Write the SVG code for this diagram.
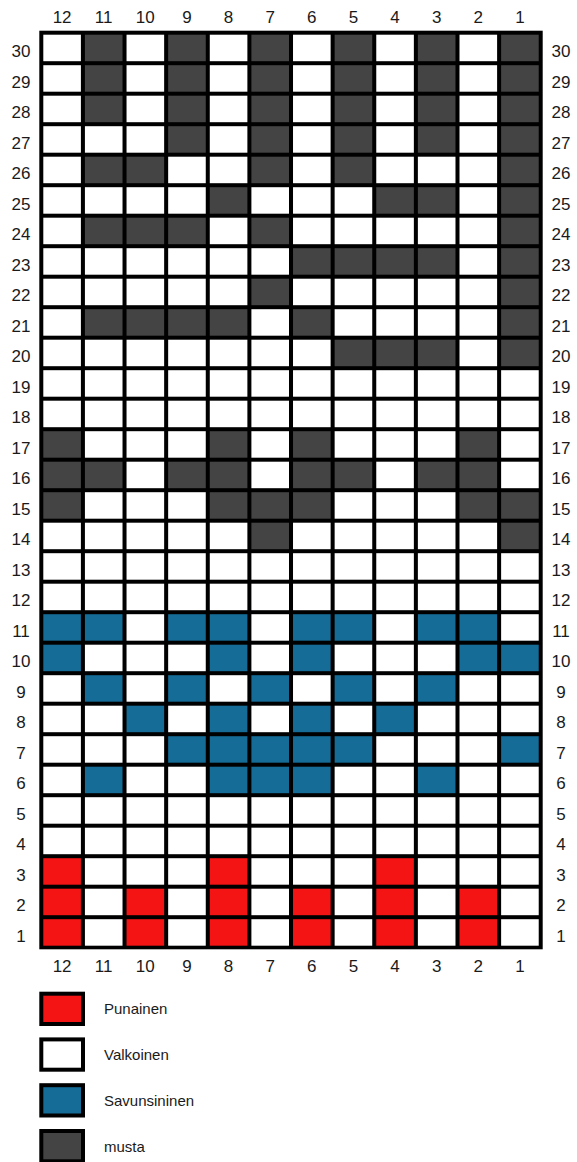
<svg xmlns="http://www.w3.org/2000/svg" width="577" height="1162" viewBox="0 0 577 1162">
<style>
.w{fill:#ffffff}.d{fill:#444444}.b{fill:#156c96}.r{fill:#f41414}
.lab{font-family:"Liberation Sans",Arial,sans-serif;font-size:17px;fill:#1a1a1a;text-anchor:middle}
.leg{font-family:"Liberation Sans",Arial,sans-serif;font-size:15px;fill:#1a1a1a}
.sw{stroke:#000;stroke-width:4}
</style>
<defs>
<rect id="c" width="37.6" height="26.5"/>
</defs>
<rect width="577" height="1162" fill="#fff"/>
<g id="grid">
<rect x="39.3" y="30.7" width="503.4" height="918.6" fill="#000"/>
<g id="row30" transform="translate(0,34.7)"><use href="#c" x="43.3" class="w"/><use href="#c" x="84.92" class="d"/><use href="#c" x="126.54" class="w"/><use href="#c" x="168.16" class="d"/><use href="#c" x="209.78" class="w"/><use href="#c" x="251.4" class="d"/><use href="#c" x="293.02" class="w"/><use href="#c" x="334.64" class="d"/><use href="#c" x="376.26" class="w"/><use href="#c" x="417.88" class="d"/><use href="#c" x="459.5" class="w"/><use href="#c" x="501.12" class="d"/></g>
<g id="row29" transform="translate(0,65.2)"><use href="#c" x="43.3" class="w"/><use href="#c" x="84.92" class="d"/><use href="#c" x="126.54" class="w"/><use href="#c" x="168.16" class="d"/><use href="#c" x="209.78" class="w"/><use href="#c" x="251.4" class="d"/><use href="#c" x="293.02" class="w"/><use href="#c" x="334.64" class="d"/><use href="#c" x="376.26" class="w"/><use href="#c" x="417.88" class="d"/><use href="#c" x="459.5" class="w"/><use href="#c" x="501.12" class="d"/></g>
<g id="row28" transform="translate(0,95.7)"><use href="#c" x="43.3" class="w"/><use href="#c" x="84.92" class="d"/><use href="#c" x="126.54" class="w"/><use href="#c" x="168.16" class="d"/><use href="#c" x="209.78" class="w"/><use href="#c" x="251.4" class="d"/><use href="#c" x="293.02" class="w"/><use href="#c" x="334.64" class="d"/><use href="#c" x="376.26" class="w"/><use href="#c" x="417.88" class="d"/><use href="#c" x="459.5" class="w"/><use href="#c" x="501.12" class="d"/></g>
<g id="row27" transform="translate(0,126.2)"><use href="#c" x="43.3" class="w"/><use href="#c" x="84.92" class="w"/><use href="#c" x="126.54" class="w"/><use href="#c" x="168.16" class="d"/><use href="#c" x="209.78" class="w"/><use href="#c" x="251.4" class="d"/><use href="#c" x="293.02" class="w"/><use href="#c" x="334.64" class="d"/><use href="#c" x="376.26" class="w"/><use href="#c" x="417.88" class="d"/><use href="#c" x="459.5" class="w"/><use href="#c" x="501.12" class="d"/></g>
<g id="row26" transform="translate(0,156.7)"><use href="#c" x="43.3" class="w"/><use href="#c" x="84.92" class="d"/><use href="#c" x="126.54" class="d"/><use href="#c" x="168.16" class="w"/><use href="#c" x="209.78" class="w"/><use href="#c" x="251.4" class="d"/><use href="#c" x="293.02" class="w"/><use href="#c" x="334.64" class="d"/><use href="#c" x="376.26" class="w"/><use href="#c" x="417.88" class="w"/><use href="#c" x="459.5" class="w"/><use href="#c" x="501.12" class="d"/></g>
<g id="row25" transform="translate(0,187.2)"><use href="#c" x="43.3" class="w"/><use href="#c" x="84.92" class="w"/><use href="#c" x="126.54" class="w"/><use href="#c" x="168.16" class="w"/><use href="#c" x="209.78" class="d"/><use href="#c" x="251.4" class="w"/><use href="#c" x="293.02" class="w"/><use href="#c" x="334.64" class="w"/><use href="#c" x="376.26" class="d"/><use href="#c" x="417.88" class="d"/><use href="#c" x="459.5" class="w"/><use href="#c" x="501.12" class="d"/></g>
<g id="row24" transform="translate(0,217.7)"><use href="#c" x="43.3" class="w"/><use href="#c" x="84.92" class="d"/><use href="#c" x="126.54" class="d"/><use href="#c" x="168.16" class="d"/><use href="#c" x="209.78" class="w"/><use href="#c" x="251.4" class="d"/><use href="#c" x="293.02" class="w"/><use href="#c" x="334.64" class="w"/><use href="#c" x="376.26" class="w"/><use href="#c" x="417.88" class="w"/><use href="#c" x="459.5" class="w"/><use href="#c" x="501.12" class="d"/></g>
<g id="row23" transform="translate(0,248.2)"><use href="#c" x="43.3" class="w"/><use href="#c" x="84.92" class="w"/><use href="#c" x="126.54" class="w"/><use href="#c" x="168.16" class="w"/><use href="#c" x="209.78" class="w"/><use href="#c" x="251.4" class="w"/><use href="#c" x="293.02" class="d"/><use href="#c" x="334.64" class="d"/><use href="#c" x="376.26" class="d"/><use href="#c" x="417.88" class="d"/><use href="#c" x="459.5" class="w"/><use href="#c" x="501.12" class="d"/></g>
<g id="row22" transform="translate(0,278.7)"><use href="#c" x="43.3" class="w"/><use href="#c" x="84.92" class="w"/><use href="#c" x="126.54" class="w"/><use href="#c" x="168.16" class="w"/><use href="#c" x="209.78" class="w"/><use href="#c" x="251.4" class="d"/><use href="#c" x="293.02" class="w"/><use href="#c" x="334.64" class="w"/><use href="#c" x="376.26" class="w"/><use href="#c" x="417.88" class="w"/><use href="#c" x="459.5" class="w"/><use href="#c" x="501.12" class="d"/></g>
<g id="row21" transform="translate(0,309.2)"><use href="#c" x="43.3" class="w"/><use href="#c" x="84.92" class="d"/><use href="#c" x="126.54" class="d"/><use href="#c" x="168.16" class="d"/><use href="#c" x="209.78" class="d"/><use href="#c" x="251.4" class="w"/><use href="#c" x="293.02" class="d"/><use href="#c" x="334.64" class="w"/><use href="#c" x="376.26" class="w"/><use href="#c" x="417.88" class="w"/><use href="#c" x="459.5" class="w"/><use href="#c" x="501.12" class="d"/></g>
<g id="row20" transform="translate(0,339.7)"><use href="#c" x="43.3" class="w"/><use href="#c" x="84.92" class="w"/><use href="#c" x="126.54" class="w"/><use href="#c" x="168.16" class="w"/><use href="#c" x="209.78" class="w"/><use href="#c" x="251.4" class="w"/><use href="#c" x="293.02" class="w"/><use href="#c" x="334.64" class="d"/><use href="#c" x="376.26" class="d"/><use href="#c" x="417.88" class="d"/><use href="#c" x="459.5" class="w"/><use href="#c" x="501.12" class="d"/></g>
<g id="row19" transform="translate(0,370.2)"><use href="#c" x="43.3" class="w"/><use href="#c" x="84.92" class="w"/><use href="#c" x="126.54" class="w"/><use href="#c" x="168.16" class="w"/><use href="#c" x="209.78" class="w"/><use href="#c" x="251.4" class="w"/><use href="#c" x="293.02" class="w"/><use href="#c" x="334.64" class="w"/><use href="#c" x="376.26" class="w"/><use href="#c" x="417.88" class="w"/><use href="#c" x="459.5" class="w"/><use href="#c" x="501.12" class="w"/></g>
<g id="row18" transform="translate(0,400.7)"><use href="#c" x="43.3" class="w"/><use href="#c" x="84.92" class="w"/><use href="#c" x="126.54" class="w"/><use href="#c" x="168.16" class="w"/><use href="#c" x="209.78" class="w"/><use href="#c" x="251.4" class="w"/><use href="#c" x="293.02" class="w"/><use href="#c" x="334.64" class="w"/><use href="#c" x="376.26" class="w"/><use href="#c" x="417.88" class="w"/><use href="#c" x="459.5" class="w"/><use href="#c" x="501.12" class="w"/></g>
<g id="row17" transform="translate(0,431.2)"><use href="#c" x="43.3" class="d"/><use href="#c" x="84.92" class="w"/><use href="#c" x="126.54" class="w"/><use href="#c" x="168.16" class="w"/><use href="#c" x="209.78" class="d"/><use href="#c" x="251.4" class="w"/><use href="#c" x="293.02" class="d"/><use href="#c" x="334.64" class="w"/><use href="#c" x="376.26" class="w"/><use href="#c" x="417.88" class="w"/><use href="#c" x="459.5" class="d"/><use href="#c" x="501.12" class="w"/></g>
<g id="row16" transform="translate(0,461.7)"><use href="#c" x="43.3" class="d"/><use href="#c" x="84.92" class="d"/><use href="#c" x="126.54" class="w"/><use href="#c" x="168.16" class="d"/><use href="#c" x="209.78" class="d"/><use href="#c" x="251.4" class="w"/><use href="#c" x="293.02" class="d"/><use href="#c" x="334.64" class="d"/><use href="#c" x="376.26" class="w"/><use href="#c" x="417.88" class="d"/><use href="#c" x="459.5" class="d"/><use href="#c" x="501.12" class="w"/></g>
<g id="row15" transform="translate(0,492.2)"><use href="#c" x="43.3" class="d"/><use href="#c" x="84.92" class="w"/><use href="#c" x="126.54" class="w"/><use href="#c" x="168.16" class="w"/><use href="#c" x="209.78" class="d"/><use href="#c" x="251.4" class="d"/><use href="#c" x="293.02" class="d"/><use href="#c" x="334.64" class="w"/><use href="#c" x="376.26" class="w"/><use href="#c" x="417.88" class="w"/><use href="#c" x="459.5" class="d"/><use href="#c" x="501.12" class="d"/></g>
<g id="row14" transform="translate(0,522.7)"><use href="#c" x="43.3" class="w"/><use href="#c" x="84.92" class="w"/><use href="#c" x="126.54" class="w"/><use href="#c" x="168.16" class="w"/><use href="#c" x="209.78" class="w"/><use href="#c" x="251.4" class="d"/><use href="#c" x="293.02" class="w"/><use href="#c" x="334.64" class="w"/><use href="#c" x="376.26" class="w"/><use href="#c" x="417.88" class="w"/><use href="#c" x="459.5" class="w"/><use href="#c" x="501.12" class="d"/></g>
<g id="row13" transform="translate(0,553.2)"><use href="#c" x="43.3" class="w"/><use href="#c" x="84.92" class="w"/><use href="#c" x="126.54" class="w"/><use href="#c" x="168.16" class="w"/><use href="#c" x="209.78" class="w"/><use href="#c" x="251.4" class="w"/><use href="#c" x="293.02" class="w"/><use href="#c" x="334.64" class="w"/><use href="#c" x="376.26" class="w"/><use href="#c" x="417.88" class="w"/><use href="#c" x="459.5" class="w"/><use href="#c" x="501.12" class="w"/></g>
<g id="row12" transform="translate(0,583.7)"><use href="#c" x="43.3" class="w"/><use href="#c" x="84.92" class="w"/><use href="#c" x="126.54" class="w"/><use href="#c" x="168.16" class="w"/><use href="#c" x="209.78" class="w"/><use href="#c" x="251.4" class="w"/><use href="#c" x="293.02" class="w"/><use href="#c" x="334.64" class="w"/><use href="#c" x="376.26" class="w"/><use href="#c" x="417.88" class="w"/><use href="#c" x="459.5" class="w"/><use href="#c" x="501.12" class="w"/></g>
<g id="row11" transform="translate(0,614.2)"><use href="#c" x="43.3" class="b"/><use href="#c" x="84.92" class="b"/><use href="#c" x="126.54" class="w"/><use href="#c" x="168.16" class="b"/><use href="#c" x="209.78" class="b"/><use href="#c" x="251.4" class="w"/><use href="#c" x="293.02" class="b"/><use href="#c" x="334.64" class="b"/><use href="#c" x="376.26" class="w"/><use href="#c" x="417.88" class="b"/><use href="#c" x="459.5" class="b"/><use href="#c" x="501.12" class="w"/></g>
<g id="row10" transform="translate(0,644.7)"><use href="#c" x="43.3" class="b"/><use href="#c" x="84.92" class="w"/><use href="#c" x="126.54" class="w"/><use href="#c" x="168.16" class="w"/><use href="#c" x="209.78" class="b"/><use href="#c" x="251.4" class="w"/><use href="#c" x="293.02" class="b"/><use href="#c" x="334.64" class="w"/><use href="#c" x="376.26" class="w"/><use href="#c" x="417.88" class="w"/><use href="#c" x="459.5" class="b"/><use href="#c" x="501.12" class="b"/></g>
<g id="row9" transform="translate(0,675.2)"><use href="#c" x="43.3" class="w"/><use href="#c" x="84.92" class="b"/><use href="#c" x="126.54" class="w"/><use href="#c" x="168.16" class="b"/><use href="#c" x="209.78" class="w"/><use href="#c" x="251.4" class="b"/><use href="#c" x="293.02" class="w"/><use href="#c" x="334.64" class="b"/><use href="#c" x="376.26" class="w"/><use href="#c" x="417.88" class="b"/><use href="#c" x="459.5" class="w"/><use href="#c" x="501.12" class="w"/></g>
<g id="row8" transform="translate(0,705.7)"><use href="#c" x="43.3" class="w"/><use href="#c" x="84.92" class="w"/><use href="#c" x="126.54" class="b"/><use href="#c" x="168.16" class="w"/><use href="#c" x="209.78" class="b"/><use href="#c" x="251.4" class="w"/><use href="#c" x="293.02" class="b"/><use href="#c" x="334.64" class="w"/><use href="#c" x="376.26" class="b"/><use href="#c" x="417.88" class="w"/><use href="#c" x="459.5" class="w"/><use href="#c" x="501.12" class="w"/></g>
<g id="row7" transform="translate(0,736.2)"><use href="#c" x="43.3" class="w"/><use href="#c" x="84.92" class="w"/><use href="#c" x="126.54" class="w"/><use href="#c" x="168.16" class="b"/><use href="#c" x="209.78" class="b"/><use href="#c" x="251.4" class="b"/><use href="#c" x="293.02" class="b"/><use href="#c" x="334.64" class="b"/><use href="#c" x="376.26" class="w"/><use href="#c" x="417.88" class="w"/><use href="#c" x="459.5" class="w"/><use href="#c" x="501.12" class="b"/></g>
<g id="row6" transform="translate(0,766.7)"><use href="#c" x="43.3" class="w"/><use href="#c" x="84.92" class="b"/><use href="#c" x="126.54" class="w"/><use href="#c" x="168.16" class="w"/><use href="#c" x="209.78" class="b"/><use href="#c" x="251.4" class="b"/><use href="#c" x="293.02" class="b"/><use href="#c" x="334.64" class="w"/><use href="#c" x="376.26" class="w"/><use href="#c" x="417.88" class="b"/><use href="#c" x="459.5" class="w"/><use href="#c" x="501.12" class="w"/></g>
<g id="row5" transform="translate(0,797.2)"><use href="#c" x="43.3" class="w"/><use href="#c" x="84.92" class="w"/><use href="#c" x="126.54" class="w"/><use href="#c" x="168.16" class="w"/><use href="#c" x="209.78" class="w"/><use href="#c" x="251.4" class="w"/><use href="#c" x="293.02" class="w"/><use href="#c" x="334.64" class="w"/><use href="#c" x="376.26" class="w"/><use href="#c" x="417.88" class="w"/><use href="#c" x="459.5" class="w"/><use href="#c" x="501.12" class="w"/></g>
<g id="row4" transform="translate(0,827.7)"><use href="#c" x="43.3" class="w"/><use href="#c" x="84.92" class="w"/><use href="#c" x="126.54" class="w"/><use href="#c" x="168.16" class="w"/><use href="#c" x="209.78" class="w"/><use href="#c" x="251.4" class="w"/><use href="#c" x="293.02" class="w"/><use href="#c" x="334.64" class="w"/><use href="#c" x="376.26" class="w"/><use href="#c" x="417.88" class="w"/><use href="#c" x="459.5" class="w"/><use href="#c" x="501.12" class="w"/></g>
<g id="row3" transform="translate(0,858.2)"><use href="#c" x="43.3" class="r"/><use href="#c" x="84.92" class="w"/><use href="#c" x="126.54" class="w"/><use href="#c" x="168.16" class="w"/><use href="#c" x="209.78" class="r"/><use href="#c" x="251.4" class="w"/><use href="#c" x="293.02" class="w"/><use href="#c" x="334.64" class="w"/><use href="#c" x="376.26" class="r"/><use href="#c" x="417.88" class="w"/><use href="#c" x="459.5" class="w"/><use href="#c" x="501.12" class="w"/></g>
<g id="row2" transform="translate(0,888.7)"><use href="#c" x="43.3" class="r"/><use href="#c" x="84.92" class="w"/><use href="#c" x="126.54" class="r"/><use href="#c" x="168.16" class="w"/><use href="#c" x="209.78" class="r"/><use href="#c" x="251.4" class="w"/><use href="#c" x="293.02" class="r"/><use href="#c" x="334.64" class="w"/><use href="#c" x="376.26" class="r"/><use href="#c" x="417.88" class="w"/><use href="#c" x="459.5" class="r"/><use href="#c" x="501.12" class="w"/></g>
<g id="row1" transform="translate(0,919.2)"><use href="#c" x="43.3" class="r"/><use href="#c" x="84.92" class="w"/><use href="#c" x="126.54" class="r"/><use href="#c" x="168.16" class="w"/><use href="#c" x="209.78" class="r"/><use href="#c" x="251.4" class="w"/><use href="#c" x="293.02" class="r"/><use href="#c" x="334.64" class="w"/><use href="#c" x="376.26" class="r"/><use href="#c" x="417.88" class="w"/><use href="#c" x="459.5" class="r"/><use href="#c" x="501.12" class="w"/></g>
</g>
<g id="col-labels-top" class="lab">
<text x="62.1" y="23.3">12</text><text x="103.7" y="23.3">11</text><text x="145.3" y="23.3">10</text><text x="187" y="23.3">9</text><text x="228.6" y="23.3">8</text><text x="270.2" y="23.3">7</text><text x="311.8" y="23.3">6</text><text x="353.4" y="23.3">5</text><text x="395.1" y="23.3">4</text><text x="436.7" y="23.3">3</text><text x="478.3" y="23.3">2</text><text x="519.9" y="23.3">1</text>
</g>
<g id="col-labels-bottom" class="lab">
<text x="62.1" y="971.7">12</text><text x="103.7" y="971.7">11</text><text x="145.3" y="971.7">10</text><text x="187" y="971.7">9</text><text x="228.6" y="971.7">8</text><text x="270.2" y="971.7">7</text><text x="311.8" y="971.7">6</text><text x="353.4" y="971.7">5</text><text x="395.1" y="971.7">4</text><text x="436.7" y="971.7">3</text><text x="478.3" y="971.7">2</text><text x="519.9" y="971.7">1</text>
</g>
<g id="row-labels-left" class="lab">
<text x="21" y="57">30</text><text x="21" y="87.5">29</text><text x="21" y="118">28</text><text x="21" y="148.5">27</text><text x="21" y="179">26</text><text x="21" y="209.5">25</text><text x="21" y="240">24</text><text x="21" y="270.5">23</text><text x="21" y="301">22</text><text x="21" y="331.5">21</text><text x="21" y="362">20</text><text x="21" y="392.5">19</text><text x="21" y="423">18</text><text x="21" y="453.5">17</text><text x="21" y="484">16</text><text x="21" y="514.5">15</text><text x="21" y="545">14</text><text x="21" y="575.5">13</text><text x="21" y="606">12</text><text x="21" y="636.5">11</text><text x="21" y="667">10</text><text x="21" y="697.5">9</text><text x="21" y="728">8</text><text x="21" y="758.5">7</text><text x="21" y="789">6</text><text x="21" y="819.5">5</text><text x="21" y="850">4</text><text x="21" y="880.5">3</text><text x="21" y="911">2</text><text x="21" y="941.5">1</text>
</g>
<g id="row-labels-right" class="lab">
<text x="561" y="57">30</text><text x="561" y="87.5">29</text><text x="561" y="118">28</text><text x="561" y="148.5">27</text><text x="561" y="179">26</text><text x="561" y="209.5">25</text><text x="561" y="240">24</text><text x="561" y="270.5">23</text><text x="561" y="301">22</text><text x="561" y="331.5">21</text><text x="561" y="362">20</text><text x="561" y="392.5">19</text><text x="561" y="423">18</text><text x="561" y="453.5">17</text><text x="561" y="484">16</text><text x="561" y="514.5">15</text><text x="561" y="545">14</text><text x="561" y="575.5">13</text><text x="561" y="606">12</text><text x="561" y="636.5">11</text><text x="561" y="667">10</text><text x="561" y="697.5">9</text><text x="561" y="728">8</text><text x="561" y="758.5">7</text><text x="561" y="789">6</text><text x="561" y="819.5">5</text><text x="561" y="850">4</text><text x="561" y="880.5">3</text><text x="561" y="911">2</text><text x="561" y="941.5">1</text>
</g>
<g id="legend-punainen"><rect class="sw r" x="41.3" y="993.7" width="41.7" height="30.3"/><text class="leg" x="104" y="1014">Punainen</text></g>
<g id="legend-valkoinen"><rect class="sw w" x="41.3" y="1039.4" width="41.7" height="30.3"/><text class="leg" x="104" y="1060">Valkoinen</text></g>
<g id="legend-savunsininen"><rect class="sw b" x="41.3" y="1085.2" width="41.7" height="30.3"/><text class="leg" x="104" y="1106">Savunsininen</text></g>
<g id="legend-musta"><rect class="sw d" x="41.3" y="1131" width="41.7" height="30.3"/><text class="leg" x="104" y="1152">musta</text></g>
</svg>
